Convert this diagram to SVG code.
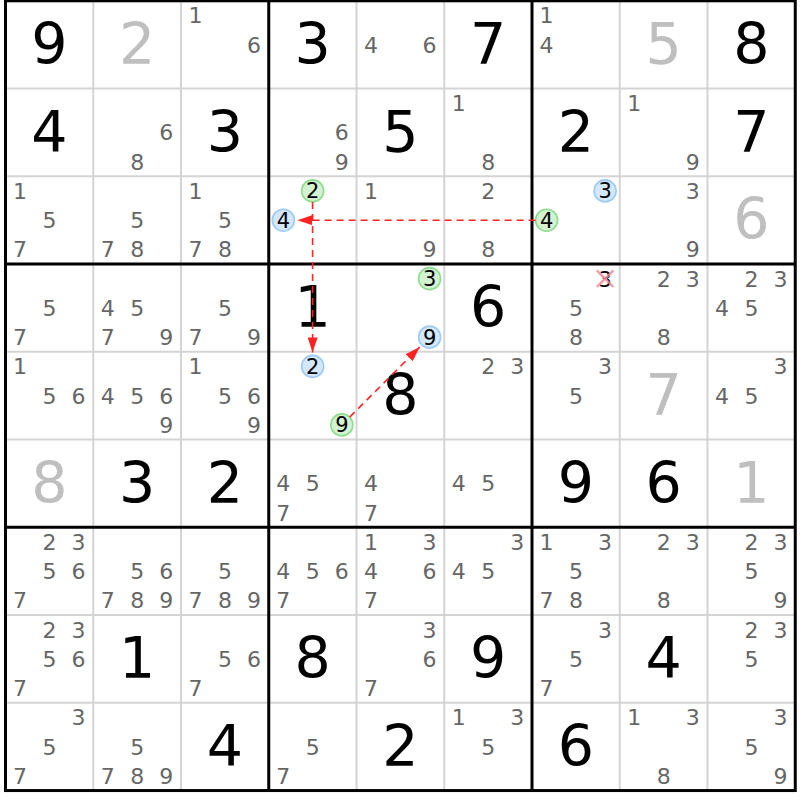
<svg xmlns="http://www.w3.org/2000/svg" width="800" height="800" viewBox="0 0 800 800">
<defs>
<style>
text{font-family:"DejaVu Sans","Liberation Sans",sans-serif;text-anchor:middle}
.b{font-size:57px}
.k{fill:#000}
.gr{fill:#bfbfbf}
.p{font-size:22px;fill:#666}
.q{font-size:21px;fill:#000}
.cg{fill:#d2f2d2;stroke:#8edc8e;stroke-width:1.6}
.cb{fill:#d3e7fd;stroke:#9ecaf6;stroke-width:1.6}
.thin{stroke:#d4d4d4;stroke-width:2}
.thick{stroke:#000;stroke-width:3}
.arr{stroke:#f22;stroke-width:1.6;stroke-dasharray:7 5;fill:none;marker-end:url(#ah)}
.x{stroke:#f08a96;stroke-width:2.4;stroke-linecap:round;opacity:0.85}
</style>
<marker id="ah" markerUnits="userSpaceOnUse" markerWidth="15" markerHeight="10" refX="15" refY="5" orient="auto">
<path d="M0,0 L15,5 L0,10 z" fill="#f22"/>
</marker>
</defs>
<rect x="0" y="0" width="800" height="800" fill="#fff"/>
<g id="grid">
<g class="thin">
<line x1="93.25" y1="0.8" x2="93.25" y2="790.55"/>
<line x1="181" y1="0.8" x2="181" y2="790.55"/>
<line x1="356.5" y1="0.8" x2="356.5" y2="790.55"/>
<line x1="444.25" y1="0.8" x2="444.25" y2="790.55"/>
<line x1="619.75" y1="0.8" x2="619.75" y2="790.55"/>
<line x1="707.5" y1="0.8" x2="707.5" y2="790.55"/>
<line x1="5.5" y1="88.55" x2="795.25" y2="88.55"/>
<line x1="5.5" y1="176.3" x2="795.25" y2="176.3"/>
<line x1="5.5" y1="351.8" x2="795.25" y2="351.8"/>
<line x1="5.5" y1="439.55" x2="795.25" y2="439.55"/>
<line x1="5.5" y1="615.05" x2="795.25" y2="615.05"/>
<line x1="5.5" y1="702.8" x2="795.25" y2="702.8"/>
</g>
<g class="thick">
<line x1="268.75" y1="0.8" x2="268.75" y2="790.55"/>
<line x1="532" y1="0.8" x2="532" y2="790.55"/>
<line x1="5.5" y1="264.05" x2="795.25" y2="264.05"/>
<line x1="5.5" y1="527.3" x2="795.25" y2="527.3"/>
<rect x="5.5" y="0.8" width="789.75" height="789.75" fill="none"/>
</g>
</g>
<g id="cells">
<!-- row 0 -->
<g id="r0c0" transform="translate(5.5,0.8)"><text class="b k" x="43.9" y="63">9</text></g>
<g id="r0c1" transform="translate(93.25,0.8)"><text class="b gr" x="43.9" y="63">2</text></g>
<g id="r0c2" transform="translate(181,0.8)"><text class="p" x="14.6" y="22.6">1</text><text class="p" x="73.1" y="51.9">6</text></g>
<g id="r0c3" transform="translate(268.75,0.8)"><text class="b k" x="43.9" y="63">3</text></g>
<g id="r0c4" transform="translate(356.5,0.8)"><text class="p" x="14.6" y="51.9">4</text><text class="p" x="73.1" y="51.9">6</text></g>
<g id="r0c5" transform="translate(444.25,0.8)"><text class="b k" x="43.9" y="63">7</text></g>
<g id="r0c6" transform="translate(532,0.8)"><text class="p" x="14.6" y="22.6">1</text><text class="p" x="14.6" y="51.9">4</text></g>
<g id="r0c7" transform="translate(619.75,0.8)"><text class="b gr" x="43.9" y="63">5</text></g>
<g id="r0c8" transform="translate(707.5,0.8)"><text class="b k" x="43.9" y="63">8</text></g>
<!-- row 1 -->
<g id="r1c0" transform="translate(5.5,88.55)"><text class="b k" x="43.9" y="63">4</text></g>
<g id="r1c1" transform="translate(93.25,88.55)"><text class="p" x="73.1" y="51.9">6</text><text class="p" x="43.9" y="81.1">8</text></g>
<g id="r1c2" transform="translate(181,88.55)"><text class="b k" x="43.9" y="63">3</text></g>
<g id="r1c3" transform="translate(268.75,88.55)"><text class="p" x="73.1" y="51.9">6</text><text class="p" x="73.1" y="81.1">9</text></g>
<g id="r1c4" transform="translate(356.5,88.55)"><text class="b k" x="43.9" y="63">5</text></g>
<g id="r1c5" transform="translate(444.25,88.55)"><text class="p" x="14.6" y="22.6">1</text><text class="p" x="43.9" y="81.1">8</text></g>
<g id="r1c6" transform="translate(532,88.55)"><text class="b k" x="43.9" y="63">2</text></g>
<g id="r1c7" transform="translate(619.75,88.55)"><text class="p" x="14.6" y="22.6">1</text><text class="p" x="73.1" y="81.1">9</text></g>
<g id="r1c8" transform="translate(707.5,88.55)"><text class="b k" x="43.9" y="63">7</text></g>
<!-- row 2 -->
<g id="r2c0" transform="translate(5.5,176.3)"><text class="p" x="14.6" y="22.6">1</text><text class="p" x="43.9" y="51.9">5</text><text class="p" x="14.6" y="81.1">7</text></g>
<g id="r2c1" transform="translate(93.25,176.3)"><text class="p" x="43.9" y="51.9">5</text><text class="p" x="14.6" y="81.1">7</text><text class="p" x="43.9" y="81.1">8</text></g>
<g id="r2c2" transform="translate(181,176.3)"><text class="p" x="14.6" y="22.6">1</text><text class="p" x="43.9" y="51.9">5</text><text class="p" x="14.6" y="81.1">7</text><text class="p" x="43.9" y="81.1">8</text></g>
<g id="r2c3" transform="translate(268.75,176.3)"><circle class="cg" cx="43.9" cy="14.6" r="11"/><text class="q" x="43.9" y="22.2">2</text><circle class="cb" cx="14.6" cy="43.9" r="11"/><text class="q" x="14.6" y="51.5">4</text></g>
<g id="r2c4" transform="translate(356.5,176.3)"><text class="p" x="14.6" y="22.6">1</text><text class="p" x="73.1" y="81.1">9</text></g>
<g id="r2c5" transform="translate(444.25,176.3)"><text class="p" x="43.9" y="22.6">2</text><text class="p" x="43.9" y="81.1">8</text></g>
<g id="r2c6" transform="translate(532,176.3)"><circle class="cb" cx="73.1" cy="14.6" r="11"/><text class="q" x="73.1" y="22.2">3</text><circle class="cg" cx="14.6" cy="43.9" r="11"/><text class="q" x="14.6" y="51.5">4</text></g>
<g id="r2c7" transform="translate(619.75,176.3)"><text class="p" x="73.1" y="22.6">3</text><text class="p" x="73.1" y="81.1">9</text></g>
<g id="r2c8" transform="translate(707.5,176.3)"><text class="b gr" x="43.9" y="63">6</text></g>
<!-- row 3 -->
<g id="r3c0" transform="translate(5.5,264.05)"><text class="p" x="43.9" y="51.9">5</text><text class="p" x="14.6" y="81.1">7</text></g>
<g id="r3c1" transform="translate(93.25,264.05)"><text class="p" x="14.6" y="51.9">4</text><text class="p" x="43.9" y="51.9">5</text><text class="p" x="14.6" y="81.1">7</text><text class="p" x="73.1" y="81.1">9</text></g>
<g id="r3c2" transform="translate(181,264.05)"><text class="p" x="43.9" y="51.9">5</text><text class="p" x="14.6" y="81.1">7</text><text class="p" x="73.1" y="81.1">9</text></g>
<g id="r3c3" transform="translate(268.75,264.05)"><text class="b k" x="43.9" y="63">1</text></g>
<g id="r3c4" transform="translate(356.5,264.05)"><circle class="cg" cx="73.1" cy="14.6" r="11"/><text class="q" x="73.1" y="22.2">3</text><circle class="cb" cx="73.1" cy="73.1" r="11"/><text class="q" x="73.1" y="80.7">9</text></g>
<g id="r3c5" transform="translate(444.25,264.05)"><text class="b k" x="43.9" y="63">6</text></g>
<g id="r3c6" transform="translate(532,264.05)"><text class="q" x="73.1" y="22.6">3</text><line class="x" x1="65.5" y1="7" x2="80.7" y2="22.2"/><line class="x" x1="80.7" y1="7" x2="65.5" y2="22.2"/><text class="p" x="43.9" y="51.9">5</text><text class="p" x="43.9" y="81.1">8</text></g>
<g id="r3c7" transform="translate(619.75,264.05)"><text class="p" x="43.9" y="22.6">2</text><text class="p" x="73.1" y="22.6">3</text><text class="p" x="43.9" y="81.1">8</text></g>
<g id="r3c8" transform="translate(707.5,264.05)"><text class="p" x="43.9" y="22.6">2</text><text class="p" x="73.1" y="22.6">3</text><text class="p" x="14.6" y="51.9">4</text><text class="p" x="43.9" y="51.9">5</text></g>
<!-- row 4 -->
<g id="r4c0" transform="translate(5.5,351.8)"><text class="p" x="14.6" y="22.6">1</text><text class="p" x="43.9" y="51.9">5</text><text class="p" x="73.1" y="51.9">6</text></g>
<g id="r4c1" transform="translate(93.25,351.8)"><text class="p" x="14.6" y="51.9">4</text><text class="p" x="43.9" y="51.9">5</text><text class="p" x="73.1" y="51.9">6</text><text class="p" x="73.1" y="81.1">9</text></g>
<g id="r4c2" transform="translate(181,351.8)"><text class="p" x="14.6" y="22.6">1</text><text class="p" x="43.9" y="51.9">5</text><text class="p" x="73.1" y="51.9">6</text><text class="p" x="73.1" y="81.1">9</text></g>
<g id="r4c3" transform="translate(268.75,351.8)"><circle class="cb" cx="43.9" cy="14.6" r="11"/><text class="q" x="43.9" y="22.2">2</text><circle class="cg" cx="73.1" cy="73.1" r="11"/><text class="q" x="73.1" y="80.7">9</text></g>
<g id="r4c4" transform="translate(356.5,351.8)"><text class="b k" x="43.9" y="63">8</text></g>
<g id="r4c5" transform="translate(444.25,351.8)"><text class="p" x="43.9" y="22.6">2</text><text class="p" x="73.1" y="22.6">3</text></g>
<g id="r4c6" transform="translate(532,351.8)"><text class="p" x="73.1" y="22.6">3</text><text class="p" x="43.9" y="51.9">5</text></g>
<g id="r4c7" transform="translate(619.75,351.8)"><text class="b gr" x="43.9" y="63">7</text></g>
<g id="r4c8" transform="translate(707.5,351.8)"><text class="p" x="73.1" y="22.6">3</text><text class="p" x="14.6" y="51.9">4</text><text class="p" x="43.9" y="51.9">5</text></g>
<!-- row 5 -->
<g id="r5c0" transform="translate(5.5,439.55)"><text class="b gr" x="43.9" y="63">8</text></g>
<g id="r5c1" transform="translate(93.25,439.55)"><text class="b k" x="43.9" y="63">3</text></g>
<g id="r5c2" transform="translate(181,439.55)"><text class="b k" x="43.9" y="63">2</text></g>
<g id="r5c3" transform="translate(268.75,439.55)"><text class="p" x="14.6" y="51.9">4</text><text class="p" x="43.9" y="51.9">5</text><text class="p" x="14.6" y="81.1">7</text></g>
<g id="r5c4" transform="translate(356.5,439.55)"><text class="p" x="14.6" y="51.9">4</text><text class="p" x="14.6" y="81.1">7</text></g>
<g id="r5c5" transform="translate(444.25,439.55)"><text class="p" x="14.6" y="51.9">4</text><text class="p" x="43.9" y="51.9">5</text></g>
<g id="r5c6" transform="translate(532,439.55)"><text class="b k" x="43.9" y="63">9</text></g>
<g id="r5c7" transform="translate(619.75,439.55)"><text class="b k" x="43.9" y="63">6</text></g>
<g id="r5c8" transform="translate(707.5,439.55)"><text class="b gr" x="43.9" y="63">1</text></g>
<!-- row 6 -->
<g id="r6c0" transform="translate(5.5,527.3)"><text class="p" x="43.9" y="22.6">2</text><text class="p" x="73.1" y="22.6">3</text><text class="p" x="43.9" y="51.9">5</text><text class="p" x="73.1" y="51.9">6</text><text class="p" x="14.6" y="81.1">7</text></g>
<g id="r6c1" transform="translate(93.25,527.3)"><text class="p" x="43.9" y="51.9">5</text><text class="p" x="73.1" y="51.9">6</text><text class="p" x="14.6" y="81.1">7</text><text class="p" x="43.9" y="81.1">8</text><text class="p" x="73.1" y="81.1">9</text></g>
<g id="r6c2" transform="translate(181,527.3)"><text class="p" x="43.9" y="51.9">5</text><text class="p" x="14.6" y="81.1">7</text><text class="p" x="43.9" y="81.1">8</text><text class="p" x="73.1" y="81.1">9</text></g>
<g id="r6c3" transform="translate(268.75,527.3)"><text class="p" x="14.6" y="51.9">4</text><text class="p" x="43.9" y="51.9">5</text><text class="p" x="73.1" y="51.9">6</text><text class="p" x="14.6" y="81.1">7</text></g>
<g id="r6c4" transform="translate(356.5,527.3)"><text class="p" x="14.6" y="22.6">1</text><text class="p" x="73.1" y="22.6">3</text><text class="p" x="14.6" y="51.9">4</text><text class="p" x="73.1" y="51.9">6</text><text class="p" x="14.6" y="81.1">7</text></g>
<g id="r6c5" transform="translate(444.25,527.3)"><text class="p" x="73.1" y="22.6">3</text><text class="p" x="14.6" y="51.9">4</text><text class="p" x="43.9" y="51.9">5</text></g>
<g id="r6c6" transform="translate(532,527.3)"><text class="p" x="14.6" y="22.6">1</text><text class="p" x="73.1" y="22.6">3</text><text class="p" x="43.9" y="51.9">5</text><text class="p" x="14.6" y="81.1">7</text><text class="p" x="43.9" y="81.1">8</text></g>
<g id="r6c7" transform="translate(619.75,527.3)"><text class="p" x="43.9" y="22.6">2</text><text class="p" x="73.1" y="22.6">3</text><text class="p" x="43.9" y="81.1">8</text></g>
<g id="r6c8" transform="translate(707.5,527.3)"><text class="p" x="43.9" y="22.6">2</text><text class="p" x="73.1" y="22.6">3</text><text class="p" x="43.9" y="51.9">5</text><text class="p" x="73.1" y="81.1">9</text></g>
<!-- row 7 -->
<g id="r7c0" transform="translate(5.5,615.05)"><text class="p" x="43.9" y="22.6">2</text><text class="p" x="73.1" y="22.6">3</text><text class="p" x="43.9" y="51.9">5</text><text class="p" x="73.1" y="51.9">6</text><text class="p" x="14.6" y="81.1">7</text></g>
<g id="r7c1" transform="translate(93.25,615.05)"><text class="b k" x="43.9" y="63">1</text></g>
<g id="r7c2" transform="translate(181,615.05)"><text class="p" x="43.9" y="51.9">5</text><text class="p" x="73.1" y="51.9">6</text><text class="p" x="14.6" y="81.1">7</text></g>
<g id="r7c3" transform="translate(268.75,615.05)"><text class="b k" x="43.9" y="63">8</text></g>
<g id="r7c4" transform="translate(356.5,615.05)"><text class="p" x="73.1" y="22.6">3</text><text class="p" x="73.1" y="51.9">6</text><text class="p" x="14.6" y="81.1">7</text></g>
<g id="r7c5" transform="translate(444.25,615.05)"><text class="b k" x="43.9" y="63">9</text></g>
<g id="r7c6" transform="translate(532,615.05)"><text class="p" x="73.1" y="22.6">3</text><text class="p" x="43.9" y="51.9">5</text><text class="p" x="14.6" y="81.1">7</text></g>
<g id="r7c7" transform="translate(619.75,615.05)"><text class="b k" x="43.9" y="63">4</text></g>
<g id="r7c8" transform="translate(707.5,615.05)"><text class="p" x="43.9" y="22.6">2</text><text class="p" x="73.1" y="22.6">3</text><text class="p" x="43.9" y="51.9">5</text></g>
<!-- row 8 -->
<g id="r8c0" transform="translate(5.5,702.8)"><text class="p" x="73.1" y="22.6">3</text><text class="p" x="43.9" y="51.9">5</text><text class="p" x="14.6" y="81.1">7</text></g>
<g id="r8c1" transform="translate(93.25,702.8)"><text class="p" x="43.9" y="51.9">5</text><text class="p" x="14.6" y="81.1">7</text><text class="p" x="43.9" y="81.1">8</text><text class="p" x="73.1" y="81.1">9</text></g>
<g id="r8c2" transform="translate(181,702.8)"><text class="b k" x="43.9" y="63">4</text></g>
<g id="r8c3" transform="translate(268.75,702.8)"><text class="p" x="43.9" y="51.9">5</text><text class="p" x="14.6" y="81.1">7</text></g>
<g id="r8c4" transform="translate(356.5,702.8)"><text class="b k" x="43.9" y="63">2</text></g>
<g id="r8c5" transform="translate(444.25,702.8)"><text class="p" x="14.6" y="22.6">1</text><text class="p" x="73.1" y="22.6">3</text><text class="p" x="43.9" y="51.9">5</text></g>
<g id="r8c6" transform="translate(532,702.8)"><text class="b k" x="43.9" y="63">6</text></g>
<g id="r8c7" transform="translate(619.75,702.8)"><text class="p" x="14.6" y="22.6">1</text><text class="p" x="73.1" y="22.6">3</text><text class="p" x="43.9" y="81.1">8</text></g>
<g id="r8c8" transform="translate(707.5,702.8)"><text class="p" x="73.1" y="22.6">3</text><text class="p" x="43.9" y="51.9">5</text><text class="p" x="73.1" y="81.1">9</text></g>
</g>
<g id="connectors">
<line class="arr" x1="535.6" y1="220.2" x2="297.4" y2="220.2"/>
<line class="arr" x1="312.6" y1="201.9" x2="312.6" y2="352.4"/>
<line class="arr" x1="349.7" y1="417.1" x2="419.7" y2="347.1"/>
</g>
</svg>
